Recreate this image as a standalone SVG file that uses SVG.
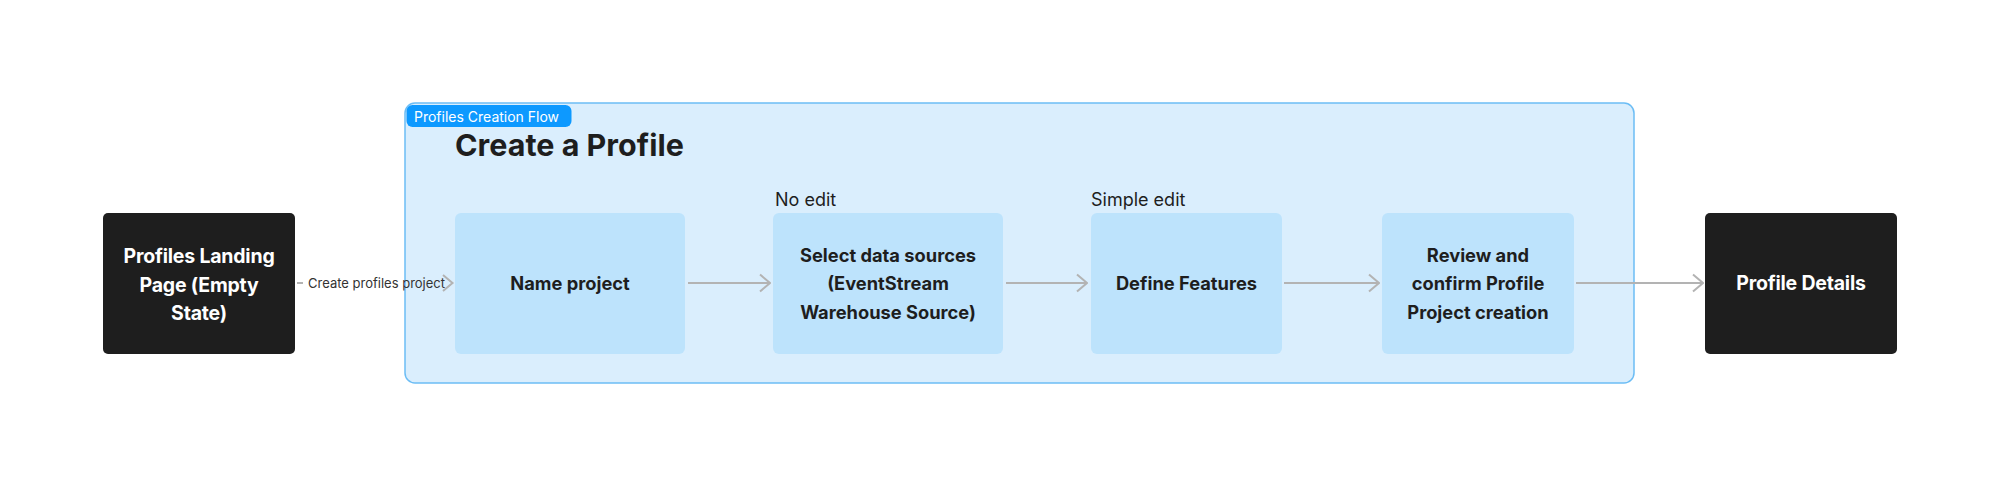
<svg xmlns="http://www.w3.org/2000/svg" width="2000" height="487" viewBox="0 0 2000 487">
<defs>
<marker id="chev" viewBox="0 0 12 20" refX="11" refY="10" markerWidth="12" markerHeight="20" markerUnits="userSpaceOnUse" orient="auto">
<path d="M1 1.5 L11 10 L1 18.5" fill="none" stroke="#b3b3b3" stroke-width="2"/>
</marker>
<style>
.dark{fill:#1e1e1e}
.light{fill:#bde3fc}
.dt{font-family:Inter,"Liberation Sans",sans-serif;font-size:19.5px;font-weight:650;letter-spacing:-0.2px;fill:#ffffff;text-anchor:middle}
.lt{font-family:Inter,"Liberation Sans",sans-serif;font-size:18.3px;font-weight:700;fill:#1e1e1e;text-anchor:middle}
.note{font-family:Inter,"Liberation Sans",sans-serif;font-size:18px;font-weight:400;fill:#1e1e1e}
.conn{stroke:#b3b3b3;stroke-width:2;fill:none}
</style>
</defs>
<rect width="2000" height="487" fill="#ffffff"/>
<g id="frame">
<rect x="405" y="103" width="1229" height="280" rx="10" fill="#daeefd" stroke="#6cbdf5" stroke-width="1.5"/>
<rect x="406.5" y="105" width="165" height="22" rx="6" fill="#0d99ff"/>
<text x="414" y="122" font-family="Inter,'Liberation Sans',sans-serif" font-size="14" fill="#ffffff">Profiles Creation Flow</text>
<text x="455" y="156" font-family="Inter,'Liberation Sans',sans-serif" font-size="30.5" font-weight="700" fill="#1e1e1e">Create a Profile</text>
</g>
<g id="connectors">
<line class="conn" x1="297" y1="283" x2="303" y2="283"/>
<path class="conn" d="M443 275 L452.5 283 L443 291"/>
<text x="308" y="288" font-family="Inter,'Liberation Sans',sans-serif" font-size="13" fill="#333333">Create profiles project</text>
<line class="conn" x1="688" y1="283" x2="770" y2="283" marker-end="url(#chev)"/>
<line class="conn" x1="1006" y1="283" x2="1087" y2="283" marker-end="url(#chev)"/>
<line class="conn" x1="1284" y1="283" x2="1379" y2="283" marker-end="url(#chev)"/>
<line class="conn" x1="1576" y1="283" x2="1703" y2="283" marker-end="url(#chev)"/>
</g>
<g id="landing">
<rect class="dark" x="103" y="213" width="192" height="141" rx="5"/>
<text class="dt" x="199" y="263">Profiles Landing</text>
<text class="dt" x="199" y="292">Page (Empty</text>
<text class="dt" x="199" y="320">State)</text>
</g>
<g id="name-project">
<rect class="light" x="455" y="213" width="230" height="141" rx="6"/>
<text class="lt" x="570" y="290">Name project</text>
</g>
<g id="select-sources">
<text class="note" x="775" y="206">No edit</text>
<rect class="light" x="773" y="213" width="230" height="141" rx="6"/>
<text class="lt" x="888" y="262">Select data sources</text>
<text class="lt" x="888" y="290">(EventStream</text>
<text class="lt" x="888" y="319">Warehouse Source)</text>
</g>
<g id="define-features">
<text class="note" x="1091" y="206">Simple edit</text>
<rect class="light" x="1091" y="213" width="191" height="141" rx="6"/>
<text class="lt" x="1186.5" y="290">Define Features</text>
</g>
<g id="review">
<rect class="light" x="1382" y="213" width="192" height="141" rx="6"/>
<text class="lt" x="1478" y="262">Review and</text>
<text class="lt" x="1478" y="290">confirm Profile</text>
<text class="lt" x="1478" y="319">Project creation</text>
</g>
<g id="profile-details">
<rect class="dark" x="1705" y="213" width="192" height="141" rx="5"/>
<text class="dt" x="1801" y="290">Profile Details</text>
</g>
</svg>
